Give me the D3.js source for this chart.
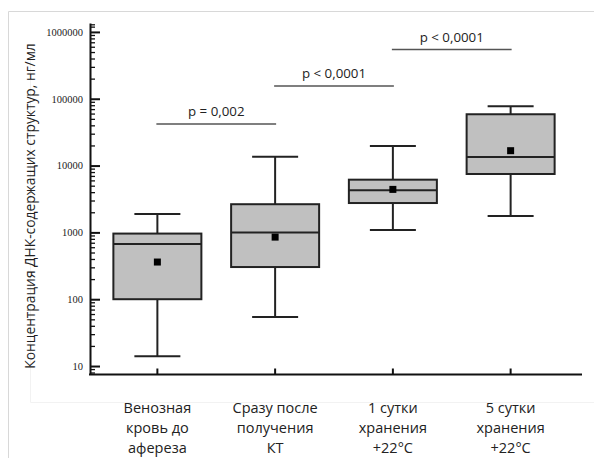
<!DOCTYPE html>
<html><head><meta charset="utf-8">
<script src="https://cdn.jsdelivr.net/npm/d3@7"></script>
<style>body{margin:0;background:#fff}svg{display:block}</style>
</head><body>
<script>
const categories = [["Венозная","кровь до","афереза"],["Сразу после","получения","КТ"],["1 сутки","хранения","+22°C"],["5 сутки","хранения","+22°C"]];
const whiskerLow = [14, 54, 1090, 1760];
const q1 = [100, 303, 2750, 7480];
const median = [670, 1000, 4270, 13450];
const q3 = [960, 2640, 6150, 58600];
const whiskerHigh = [1880, 13600, 19600, 77000];
const means = [360, 850, 4400, 16700];
const majorTicks = [10, 100, 1000, 10000, 100000, 1000000];
const comparisons = [{from:0,to:1,label:"p = 0,002",level:1},{from:1,to:2,label:"p < 0,0001",level:2},{from:2,to:3,label:"p < 0,0001",level:3}];
const yLabel = "Концентрация ДНК-содержащих структур, нг/мл";

const W=594,H=458;
const svg=d3.select("body").append("svg").attr("width",W).attr("height",H);
// frame
svg.append("path").attr("d","M8.5,458 V11.5 H594").attr("fill","none").attr("stroke","#d8d8d8").attr("stroke-width",1);
svg.append("path").attr("d","M30.5,60 V402.5 H594").attr("fill","none").attr("stroke","#f2f2f2").attr("stroke-width",1);

const y=d3.scaleLog().domain([7.6,1.36e6]).range([374,23]);
const x=d3.scaleBand().domain(d3.range(categories.length)).range([98.5,569.5]).padding(0);
const cx=i=>x(i)+x.bandwidth()/2;
const boxW=88, capW=46;

// minor ticks
const minor=[];
majorTicks.forEach(m=>{ if(m<1000000) for(let k=2;k<10;k++) minor.push(m*k); });
[8,9].forEach(k=>minor.push(k));
minor.push(1e6*1.2); minor.push(1e6*1.3);
const gMinor=svg.append("g").attr("transform","translate(90,0)")
  .call(d3.axisLeft(y).tickValues(minor.filter(v=>v>=7.6&&v<=1.36e6)).tickSize(-5).tickFormat(""));
gMinor.select(".domain").remove();
gMinor.selectAll("line").attr("stroke","#111").attr("stroke-width",1.3);

const gy=svg.append("g").attr("transform","translate(90,0)")
  .call(d3.axisLeft(y).tickValues(majorTicks).tickSize(-10).tickPadding(7).tickFormat(d3.format("d")).tickSizeOuter(0));
gy.select(".domain").attr("stroke","#111").attr("stroke-width",2);
gy.selectAll(".tick line").attr("stroke","#111").attr("stroke-width",2);
gy.selectAll(".tick text").attr("font-family","Liberation Serif").attr("font-size",10.5).attr("fill","#222");

svg.append("line").attr("x1",89).attr("x2",582).attr("y1",374.5).attr("y2",374.5).attr("stroke","#111").attr("stroke-width",2);
const gx=svg.append("g").attr("transform","translate(0,374.5)")
  .call(d3.axisBottom(x).tickSize(-6).tickFormat("").tickSizeOuter(0));
gx.select(".domain").remove();
gx.selectAll(".tick line").attr("stroke","#111").attr("stroke-width",2);

// boxes
const g=svg.append("g");
categories.forEach((c,i)=>{
  const X=cx(i);
  const stroke="#222", sw=2;
  g.append("line").attr("x1",X).attr("x2",X).attr("y1",y(whiskerLow[i])).attr("y2",y(q1[i])).attr("stroke",stroke).attr("stroke-width",sw);
  g.append("line").attr("x1",X).attr("x2",X).attr("y1",y(q3[i])).attr("y2",y(whiskerHigh[i])).attr("stroke",stroke).attr("stroke-width",sw);
  g.append("line").attr("x1",X-capW/2).attr("x2",X+capW/2).attr("y1",y(whiskerLow[i])).attr("y2",y(whiskerLow[i])).attr("stroke",stroke).attr("stroke-width",sw);
  g.append("line").attr("x1",X-capW/2).attr("x2",X+capW/2).attr("y1",y(whiskerHigh[i])).attr("y2",y(whiskerHigh[i])).attr("stroke",stroke).attr("stroke-width",sw);
  g.append("rect").attr("x",X-boxW/2).attr("width",boxW).attr("y",y(q3[i])).attr("height",y(q1[i])-y(q3[i]))
    .attr("fill","#c0c0c0").attr("stroke",stroke).attr("stroke-width",sw);
  g.append("line").attr("x1",X-boxW/2).attr("x2",X+boxW/2).attr("y1",y(median[i])).attr("y2",y(median[i])).attr("stroke",stroke).attr("stroke-width",sw);
  g.append("rect").attr("x",X-3.5).attr("y",y(means[i])-3.5).attr("width",7).attr("height",7).attr("fill","#000");
  // category labels
  const t=svg.append("text").attr("text-anchor","middle").attr("font-family","Open Sans").attr("font-size",14.5).attr("fill","#222");
  c.forEach((line,j)=>t.append("tspan").attr("x",X).attr("y",413+j*20).text(line));
});

// comparisons
const levelY=[0,124,86,49.5];
comparisons.forEach(cmp=>{
  const ly=levelY[cmp.level];
  svg.append("line").attr("x1",cx(cmp.from)-1).attr("x2",cx(cmp.to)+1).attr("y1",ly).attr("y2",ly).attr("stroke","#555").attr("stroke-width",1.5);
  svg.append("text").attr("x",(cx(cmp.from)+cx(cmp.to))/2).attr("y",ly-8).attr("text-anchor","middle")
    .attr("font-family","Open Sans").attr("font-size",13.3).attr("fill","#222").text(cmp.label);
});

svg.append("text").attr("transform","translate(35,206) rotate(-90)").attr("text-anchor","middle")
  .attr("font-family","Open Sans").attr("font-size",13.8).attr("fill","#222").text(yLabel);
</script>
</body></html>
